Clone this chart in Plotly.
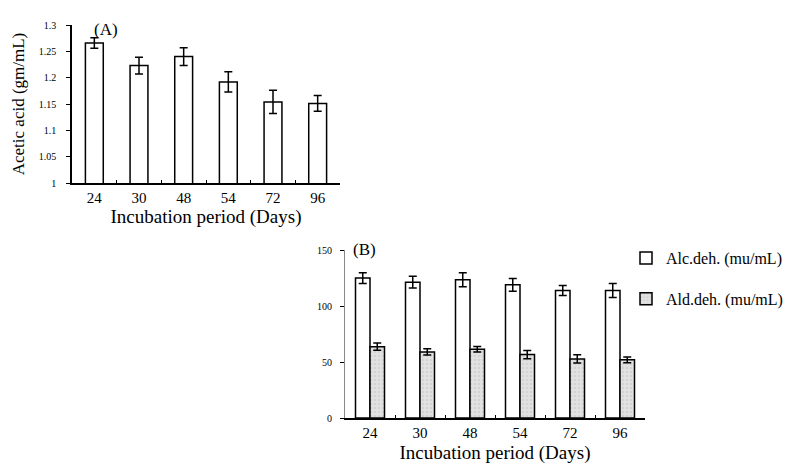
import plotly.graph_objects as go

days = ["24", "30", "48", "54", "72", "96"]

acetic = [1.266, 1.223, 1.240, 1.192, 1.154, 1.151]
acetic_err = [0.010, 0.016, 0.017, 0.019, 0.022, 0.015]

alc_deh = [124.9, 121.3, 123.4, 118.9, 113.8, 113.8]
alc_err = [4.7, 5.3, 6.3, 5.7, 4.5, 6.3]
ald_deh = [63.7, 59.0, 61.4, 56.6, 52.7, 51.9]
ald_err = [3.3, 2.8, 2.5, 3.7, 3.7, 2.5]

SERIF = "Liberation Serif"
W, H = 798, 464

fig = go.Figure()

err_style = dict(type="data", visible=True, color="black", thickness=1.5, width=4)

fig.add_trace(go.Bar(
    x=days, y=acetic, xaxis="x", yaxis="y",
    marker=dict(color="white", line=dict(color="black", width=1.5)),
    error_y=dict(array=acetic_err, **err_style),
    width=0.4, showlegend=False, name="Acetic acid",
))

fig.add_trace(go.Bar(
    x=days, y=alc_deh, xaxis="x2", yaxis="y2",
    marker=dict(color="white", line=dict(color="black", width=1.5)),
    error_y=dict(array=alc_err, **err_style),
    offsetgroup="a", name="Alc.deh. (mu/mL)", legendgroup="a",
))
fig.add_trace(go.Bar(
    x=days, y=ald_deh, xaxis="x2", yaxis="y2",
    marker=dict(color="#dcdcdc", line=dict(color="black", width=1.5),
                pattern=dict(shape=".", fgcolor="#c4c4c4", bgcolor="#e2e2e2", size=4, solidity=0.3)),
    error_y=dict(array=ald_err, **err_style),
    offsetgroup="b", name="Ald.deh. (mu/mL)", legendgroup="b",
))

def px_x(p):
    return p / W

def px_y(p):
    return 1 - p / H

axis_common = dict(
    showline=True, linecolor="black", linewidth=1.5, showgrid=False, zeroline=False,
    automargin=False,
)

def xa(standoff):
    return dict(
        axis_common, type="category", ticks="inside", ticklen=3, tickcolor="black",
        tickson="boundaries",
        tickfont=dict(family=SERIF, size=15, color="black"),
        title=dict(text="Incubation period (Days)", font=dict(family=SERIF, size=19, color="black"),
                   standoff=standoff),
    )

fig.update_layout(
    width=W, height=H,
    margin=dict(l=0, r=0, t=0, b=0),
    paper_bgcolor="white", plot_bgcolor="white",
    barmode="group", bargap=0.42, bargroupgap=0,
    font=dict(family=SERIF, color="black"),
    xaxis=dict(xa(4), domain=[px_x(72), px_x(340)], anchor="y"),
    yaxis=dict(axis_common, domain=[px_y(183), px_y(25)], anchor="x",
               range=[1, 1.3], dtick=0.05, tick0=1, ticks="outside", ticklen=4,
               tickcolor="black", ticklabelstandoff=8,
               tickfont=dict(family=SERIF, size=10, color="black"),
               title=dict(text="Acetic acid (gm/mL)", font=dict(family=SERIF, size=17, color="black"), standoff=10)),
    xaxis2=dict(xa(7), domain=[px_x(345), px_x(645)], anchor="y2"),
    yaxis2=dict(axis_common, domain=[px_y(418), px_y(250)], anchor="x2",
                range=[0, 150], dtick=50, ticks="outside", ticklen=4,
                tickcolor="black", ticklabelstandoff=6,
                tickfont=dict(family=SERIF, size=10, color="black"),
                linecolor="#888888", linewidth=1),
    legend=dict(x=px_x(626), y=px_y(241), xanchor="left", yanchor="top",
                font=dict(family=SERIF, size=16, color="black"),
                tracegroupgap=17, bgcolor="rgba(0,0,0,0)"),
    annotations=[
        dict(text="(A)", x=px_x(92), y=px_y(18), xref="paper", yref="paper",
             showarrow=False, font=dict(family=SERIF, size=17, color="black")),
        dict(text="(B)", x=px_x(364), y=px_y(249), xref="paper", yref="paper",
             showarrow=False, font=dict(family=SERIF, size=17, color="black")),
    ],
)

fig.write_html("out.html")
